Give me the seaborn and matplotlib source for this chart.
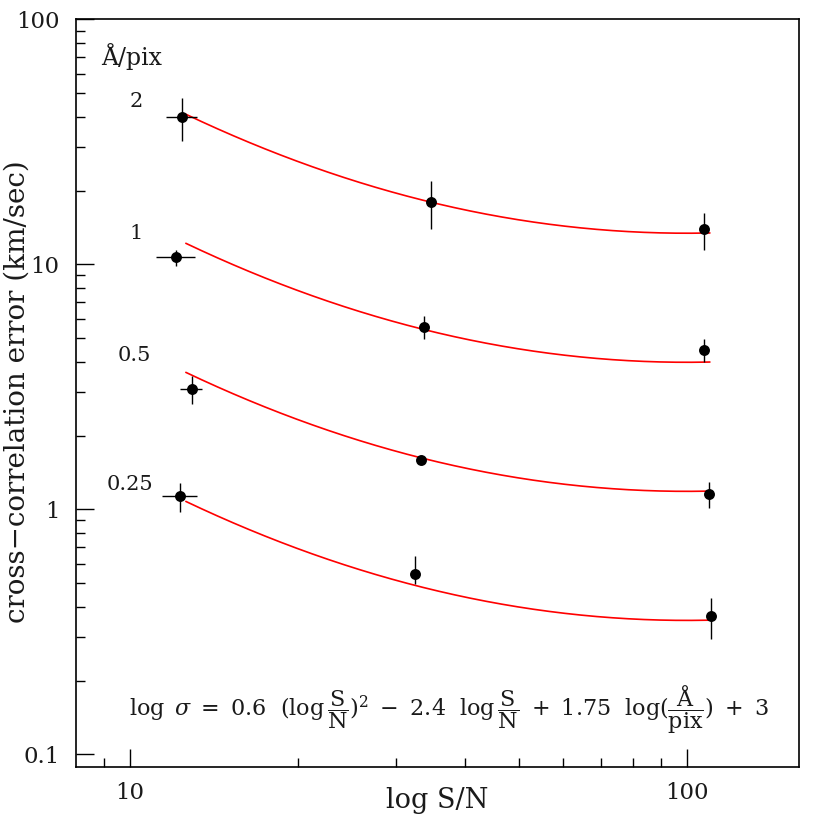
import numpy as np
import pandas as pd
import matplotlib
matplotlib.use("Agg")
import matplotlib.pyplot as plt
import seaborn as sns
from matplotlib.ticker import FixedLocator, NullFormatter

# ---------------- data ----------------
scale_labels = ["2", "1", "0.5", "0.25"]          # Å/pix
scale_values = [2.0, 1.0, 0.5, 0.25]

pt_scale = [2, 2, 2, 1, 1, 1, 0.5, 0.5, 0.5, 0.25, 0.25, 0.25]
pt_sn = [12.40, 34.73, 107.3, 12.09, 33.74, 107.3, 12.90, 33.32, 109.4, 12.30, 32.47, 110.3]
pt_sigma = [39.9, 17.9, 13.94, 10.68, 5.56, 4.47, 3.10, 1.589, 1.151, 1.130, 0.544, 0.367]
pt_sig_lo = [31.95, 13.97, 11.44, 9.84, 4.95, 3.99, 2.68, 1.589, 1.012, 0.978, 0.496, 0.296]
pt_sig_hi = [47.7, 21.9, 16.15, 11.44, 6.15, 4.95, 3.50, 1.589, 1.292, 1.280, 0.645, 0.434]
pt_sn_lo = [11.61, 34.73, 107.3, 11.12, 33.74, 107.3, 12.30, 33.32, 109.4, 11.41, 32.47, 110.3]
pt_sn_hi = [13.19, 34.73, 107.3, 13.10, 33.74, 107.3, 13.49, 33.32, 109.4, 13.21, 32.47, 110.3]

# model coefficients printed on the chart
coef_sq, coef_lin, coef_scale, coef_const = 0.6, -2.4, 1.75, 3.0
model_sn_range = [12.6, 110.0]

x_ticks = [10, 100]
x_ticklabels = ["10", "100"]
x_minor = [9, 20, 30, 40, 50, 60, 70, 80, 90]
y_ticks = [0.1, 1, 10, 100]
y_ticklabels = ["0.1", "1", "10", "100"]

# ---------------- frames ----------------
pts = pd.DataFrame(dict(scale=pt_scale, sn=pt_sn, sigma=pt_sigma,
                        lo=pt_sig_lo, hi=pt_sig_hi, xlo=pt_sn_lo, xhi=pt_sn_hi))

grid = np.logspace(np.log10(model_sn_range[0]), np.log10(model_sn_range[1]), 200)
rows = []
for s in scale_values:
    lg = np.log10(grid)
    logsig = coef_sq * lg**2 + coef_lin * lg + coef_scale * np.log10(s) + coef_const
    rows.append(pd.DataFrame(dict(sn=grid, sigma=10**logsig, scale=s)))
curves = pd.concat(rows, ignore_index=True)

# ---------------- plot ----------------
sns.set_theme(style="ticks")
plt.rcParams["mathtext.fontset"] = "dejavuserif"
plt.rcParams["font.family"] = ["DejaVu Serif"]
TXT = "#1a1a1a"

fig = plt.figure(figsize=(8.17, 8.17), dpi=100)
ax = fig.add_axes([76 / 817, 50 / 817, 723 / 817, 747.7 / 817])
ax.set_xscale("log")
ax.set_yscale("log")

sns.lineplot(data=curves, x="sn", y="sigma", units="scale", estimator=None,
             color="red", lw=1.2, sort=False, ax=ax, legend=False, zorder=2)

ax.errorbar(pts["sn"], pts["sigma"],
            yerr=[pts["sigma"] - pts["lo"], pts["hi"] - pts["sigma"]],
            xerr=[pts["sn"] - pts["xlo"], pts["xhi"] - pts["sn"]],
            fmt="none", ecolor="black", elinewidth=1.0, capsize=0, zorder=3)

sns.scatterplot(data=pts, x="sn", y="sigma", color="black", s=62,
                edgecolor="black", linewidth=0, ax=ax, legend=False, zorder=4)

ax.set_xlim(8.0, 159)
ax.set_ylim(10**-1.052, 100)

ax.set_xticks(x_ticks)
ax.set_xticklabels(x_ticklabels)
ax.xaxis.set_minor_locator(FixedLocator(x_minor))
ax.xaxis.set_minor_formatter(NullFormatter())
ax.set_yticks(y_ticks)
ax.set_yticklabels(y_ticklabels)
ax.yaxis.set_minor_locator(FixedLocator([k * 10.0**e for e in (-1, 0, 1) for k in range(2, 10)]))
ax.yaxis.set_minor_formatter(NullFormatter())

ax.tick_params(which="major", direction="in", length=12.7, width=1.0, color="black",
               top=False, right=False, labelsize=16.5, labelcolor=TXT)
ax.tick_params(axis="y", which="major", pad=12)
ax.tick_params(axis="x", which="major", pad=11)
ax.tick_params(which="minor", direction="in", length=6.7, width=1.0, color="black",
               top=False, right=False)
for sp in ax.spines.values():
    sp.set_color("black")
    sp.set_linewidth(1.2)

ax.set_xlabel("")
ax.set_ylabel("")
fig.text(437.5 / 817, 1 - 800 / 817, "log S/N", ha="center", va="center",
         fontsize=19.5, color=TXT)
fig.text(17 / 817, 1 - 392 / 817, "cross\u2212correlation error (km/sec)",
         ha="center", va="center", rotation=90, fontsize=20, color=TXT)

# series labels
ax.text(0.077, 0.9496, "\u00c5/pix", transform=ax.transAxes,
        ha="center", va="center", fontsize=17, color=TXT)
label_pos = [(0.083, 0.8898), (0.083, 0.7129), (0.0809, 0.5497), (0.0747, 0.3772)]
for lab, (xx, yy) in zip(scale_labels, label_pos):
    ax.text(xx, yy, lab, transform=ax.transAxes,
            ha="center", va="center", fontsize=15, color=TXT)

formula = (r"$\log\ \sigma\ =\ 0.6\ \ (\log\dfrac{\mathrm{S}}{\mathrm{N}})^{2}\ -\ 2.4\ \ "
           r"\log\dfrac{\mathrm{S}}{\mathrm{N}}\ +\ 1.75\ \ \log(\dfrac{\mathrm{\AA}}{\mathrm{pix}})"
           r"\ +\ 3$")
ax.text(0.5166, 0.0762, formula, transform=ax.transAxes, ha="center", va="center",
        fontsize=16, color=TXT)

fig.savefig("out.png", dpi=100)
